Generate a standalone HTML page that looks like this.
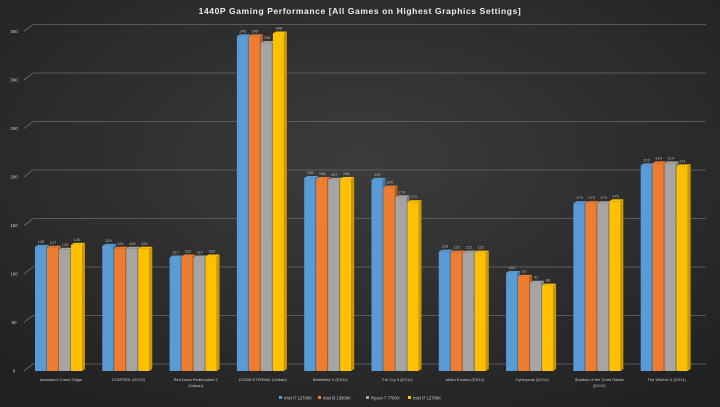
<!DOCTYPE html>
<html><head><style>
body{margin:0;width:720px;height:407px;overflow:hidden;background:#2b2b2b}
svg{display:block}
</style></head><body>
<svg width="720" height="407" xmlns="http://www.w3.org/2000/svg" font-family="Liberation Sans, sans-serif">
<defs>
<radialGradient id="bg" cx="50%" cy="40%" r="70%">
<stop offset="0" stop-color="#3c3c3c"/><stop offset="1" stop-color="#222"/>
</radialGradient>
</defs>
<rect width="720" height="407" fill="url(#bg)"/>
<text x="360" y="14" fill="#eee" font-size="8.5" font-weight="bold" text-anchor="middle" letter-spacing="0.6">1440P Gaming  Performance  [All Games on Highest Graphics Settings]</text>
<g stroke="#6a6a6a" stroke-width="0.8" fill="none" id="grid"></g>
<g id="bars"></g>
<g id="lbl" fill="#bbb" font-size="4"></g>
<g font-size="4.2" fill="#ccc">
<rect x="279" y="396" width="3" height="3" fill="#5b9bd5"/><text x="284" y="399.5">Intel i7 12700K</text>
<rect x="318" y="396" width="3" height="3" fill="#ed7d31"/><text x="323" y="399.5">Intel i5 13600K</text>
<rect x="366" y="396" width="3" height="3" fill="#a5a5a5"/><text x="371" y="399.5">Ryzen 7 7700X</text>
<rect x="408" y="396" width="3" height="3" fill="#ffc000"/><text x="413" y="399.5">Intel i7 12700K</text>
</g>
<g font-size="4.5" fill="#ccc" id="ax"></g>
</svg>
<script>
var ns="http://www.w3.org/2000/svg";
function el(p,t,a,tx){var e=document.createElementNS(ns,t);for(var k in a)e.setAttribute(k,a[k]);if(tx)e.textContent=tx;document.getElementById(p).appendChild(e);}
var y0=371,s=0.97;
for(var v=0;v<=350;v+=50){var y=y0-v*s;
el('grid','line',{x1:33,y1:y-7,x2:706,y2:y-7});
el('grid','line',{x1:24,y1:y,x2:33,y2:y-7});
el('ax','text',{x:14,y:y+1.5,'text-anchor':'middle'},String(v));}
var names=["Assassin's Creed Origin","CONTROL (DX12)","Red Dead Redemption 2|(Vulkan)","DOOM ETERNAL (Vulkan)","Battlefield V (DX11)","Far Cry 5 (DX11)","Metro Exodus (DX12)","Cyberpunk (DX12)","Shadow of the Tomb Raider|(DX12)","The Witcher 3 (DX11)"];
var d=[[128,127,125,130],[129,126,126,126],[117,118,117,118],[345,345,338,348],[199,198,197,198],[197,189,179,174],[123,122,122,122],[101,97,91,88],[173,173,173,175],[212,214,214,211]];
var c=["#5b9bd5","#ed7d31","#a5a5a5","#ffc000"],cd=["#3d78ad","#b85e20","#7d7d7d","#c99700"];
for(var g=0;g<10;g++){var x0=35+g*67.3;
for(var i=0;i<4;i++){var x=x0+i*12,h=d[g][i]*s,y=y0-h;
el('bars','polygon',{points:(x+11)+','+y+' '+(x+14)+','+(y-2)+' '+(x+14)+','+(y0-2)+' '+(x+11)+','+y0,fill:cd[i]});
el('bars','polygon',{points:x+','+y+' '+(x+3)+','+(y-2)+' '+(x+14)+','+(y-2)+' '+(x+11)+','+y,fill:c[i]});
el('bars','rect',{x:x,y:y,width:11,height:h,fill:c[i]});
el('lbl','text',{x:x+6,y:y-4,'text-anchor':'middle'},String(d[g][i]));}
var p=names[g].split('|');
for(var k=0;k<p.length;k++)el('ax','text',{x:x0+26,y:381+k*6,'text-anchor':'middle','font-size':4},p[k]);}
</script>
</body></html>
